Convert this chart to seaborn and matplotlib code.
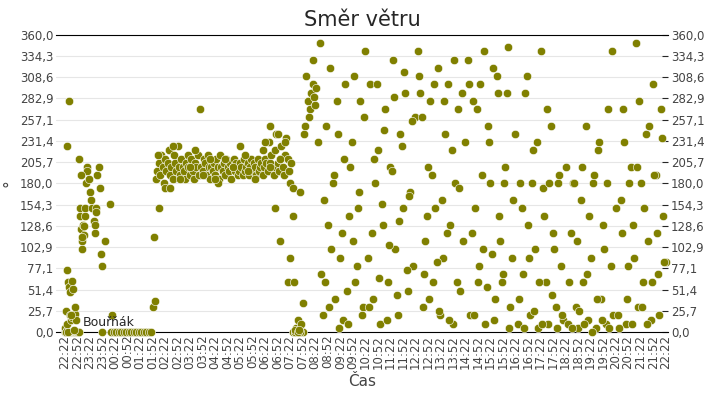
import numpy as np
import pandas as pd
import matplotlib
matplotlib.use("Agg")
import matplotlib.pyplot as plt
import seaborn as sns

# hours after 22:22, wind direction in degrees
hours = [
    0.0, 0.02, 0.05, 0.08, 0.1, 0.12, 0.15, 0.18, 0.2, 0.22, 0.25, 0.28, 0.3, 0.33, 0.35, 0.38, 0.4, 0.42, 0.45, 0.48, 0.5, 0.52, 0.55,
    0.03, 0.07, 0.1, 0.15, 0.2, 0.25, 0.3, 0.35, 0.4, 0.45, 0.12, 0.18, 0.22, 0.28, 0.32, 0.08, 0.25, 0.42, 0.05, 0.14, 0.35,
    0.6, 0.62, 0.65, 0.68, 0.7, 0.72, 0.75, 0.78, 0.8, 0.82, 0.85, 0.88, 0.9, 0.95, 1.0, 1.05, 1.1, 1.15, 1.2, 1.25, 1.3, 1.35, 1.4,
    0.58, 0.63, 0.7, 1.2, 1.25, 1.45, 1.5, 1.6, 1.5, 1.8, 1.9,
    1.85, 1.95, 2.05, 2.15, 2.25, 2.35, 2.45, 2.55, 2.65, 2.75, 2.85, 2.95, 3.05, 3.15, 3.25, 3.35, 3.45, 3.5, 3.6,
    3.55, 3.75,
    3.62, 3.68, 3.75, 3.8, 3.85, 3.9, 3.95, 4.0, 4.05, 4.1, 4.15, 4.2, 4.25, 4.3, 4.35, 4.4, 4.45, 4.5, 4.55, 4.6, 4.65, 4.7,
    4.75, 4.8, 4.85, 4.9, 4.95, 5.0, 5.05, 5.1, 5.15, 5.2, 5.25, 5.3, 5.35, 5.4, 5.45, 5.5, 5.55, 5.6, 5.65, 5.7, 5.75, 5.8,
    5.85, 5.9, 5.95, 6.0, 6.05, 6.1, 6.15, 6.2, 6.25, 6.3, 6.35, 6.4, 6.45, 6.5, 6.55, 6.6, 6.65, 6.7, 6.75, 6.8, 6.85, 6.9,
    6.95, 7.0, 7.05, 7.1, 7.15, 7.2, 7.25, 7.3, 7.35, 7.4, 7.45, 7.5, 7.55, 7.6, 7.65, 7.7, 7.75, 7.8, 7.85, 7.9, 7.95, 8.0,
    8.05, 8.1, 8.15, 8.2, 8.25, 8.3, 8.35, 8.4, 8.45, 8.5, 8.55, 8.6, 8.65, 8.7, 8.75, 8.8, 8.85, 8.9, 8.95, 9.0, 9.05, 9.1,
    3.7, 4.0, 4.3, 4.6, 4.9, 5.2, 5.5, 5.8, 6.1, 6.4, 6.7, 7.0, 7.3, 7.6, 7.9, 8.2, 8.5, 8.8, 4.2, 5.0, 6.0, 7.2, 8.0, 8.6,
    8.2, 8.4, 8.6, 8.9, 9.1, 9.2, 9.3, 9.4, 9.5,
    9.0, 9.1, 9.15, 9.2, 9.25, 9.3, 9.35, 9.4, 9.45, 9.5, 9.2, 9.3, 9.35,
    9.4, 9.6, 9.7, 9.8, 9.9, 9.75, 9.85, 9.95, 10.0, 10.1, 9.55, 9.65, 9.9, 10.05,
    10.2, 10.3, 10.4, 10.5, 10.6, 10.7, 10.8, 10.9, 11.0, 11.1, 11.2, 11.3, 11.4, 11.5, 11.6, 11.7, 11.8, 11.9, 12.0,
    10.25, 10.35, 10.45, 10.55, 10.65, 10.75, 10.85, 10.95, 11.05, 11.15, 11.25, 11.35, 11.45, 11.55, 11.65, 11.75, 11.85, 11.95,
    12.1, 12.2, 12.3, 12.4, 12.5, 12.6, 12.7, 12.8, 12.9, 13.0, 13.1, 13.2, 13.3, 13.4, 13.5, 13.6, 13.7, 13.8, 13.9, 14.0,
    12.15, 12.25, 12.35, 12.45, 12.55, 12.65, 12.75, 12.85, 12.95, 13.05, 13.15, 13.25, 13.35, 13.45, 13.55, 13.65, 13.75, 13.85,
    14.1, 14.2, 14.3, 14.4, 14.5, 14.6, 14.7, 14.8, 14.9, 15.0, 15.1, 15.2, 15.3, 15.4, 15.5, 15.6, 15.7, 15.8, 15.9, 16.0,
    14.15, 14.25, 14.35, 14.45, 14.55, 14.65, 14.75, 14.85, 14.95, 15.05, 15.15, 15.25, 15.35, 15.45, 15.55, 15.65, 15.75, 15.85,
    16.1, 16.2, 16.3, 16.4, 16.5, 16.6, 16.7, 16.8, 16.9, 17.0, 17.1, 17.2, 17.3, 17.4, 17.5, 17.6, 17.7, 17.8, 17.9, 18.0,
    16.15, 16.25, 16.35, 16.45, 16.55, 16.65, 16.75, 16.85, 16.95, 17.05, 17.15, 17.25, 17.35, 17.45, 17.55, 17.65, 17.75, 17.85,
    18.1, 18.2, 18.3, 18.4, 18.5, 18.6, 18.7, 18.8, 18.9, 19.0, 19.1, 19.2, 19.3, 19.4, 19.5, 19.6, 19.7, 19.8, 19.9, 20.0,
    18.15, 18.25, 18.35, 18.45, 18.55, 18.65, 18.75, 18.85, 18.95, 19.05, 19.15, 19.25, 19.35, 19.45, 19.55, 19.65, 19.75, 19.85,
    20.1, 20.2, 20.3, 20.4, 20.5, 20.6, 20.7, 20.8, 20.9, 21.0, 21.1, 21.2, 21.3, 21.4, 21.5, 21.6, 21.7, 21.8, 21.9, 22.0,
    20.15, 20.25, 20.35, 20.45, 20.55, 20.65, 20.75, 20.85, 20.95, 21.05, 21.15, 21.25, 21.35, 21.45, 21.55, 21.65, 21.75, 21.85,
    22.1, 22.2, 22.3, 22.4, 22.5, 22.6, 22.7, 22.8, 22.9, 23.0, 23.1, 23.2, 23.3, 23.4, 23.5, 23.6, 23.7, 23.8, 23.9, 24.0,
    22.15, 22.25, 22.35, 22.45, 22.55, 22.65, 22.75, 22.85, 22.95, 23.05, 23.15, 23.25, 23.35, 23.45, 23.55, 23.65, 23.75, 23.85, 23.95,
]
direction = [
    0, 5, 0, 0, 2, 0, 0, 0, 0, 0, 0, 0, 0, 0, 0, 0, 0, 0, 0, 0, 0, 0, 0,
    25, 10, 225, 280, 20, 15, 18, 20, 22, 15, 60, 55, 48, 62, 52, 75, 20, 30, 0, 0, 2,
    150, 140, 125, 110, 100, 130, 118, 128, 140, 150, 180, 200, 195, 185, 170, 160, 150, 135, 120, 150, 190, 200, 175,
    210, 190, 115, 130, 145, 95, 80, 110, 0, 155, 20,
    0, 0, 0, 0, 0, 0, 0, 0, 0, 0, 0, 0, 0, 0, 0, 0, 0, 30, 38,
    115, 150,
    185, 195, 205, 190, 215, 200, 180, 210, 195, 205, 220, 190, 200, 185, 215, 205, 195, 225, 200, 190, 210, 200,
    195, 185, 205, 215, 200, 190, 210, 195, 185, 205, 200, 215, 190, 270, 200, 195, 210, 205, 190, 215, 200, 185,
    200, 195, 205, 190, 210, 200, 185, 215, 200, 195, 205, 190, 210, 200, 195, 205, 185, 200, 210, 195, 205, 190,
    195, 205, 200, 190, 210, 195, 200, 205, 190, 200, 210, 195, 205, 200, 190, 210, 195, 200, 205, 190, 200, 210,
    205, 195, 230, 250, 215, 200, 190, 220, 240, 205, 195, 210, 225, 200, 190, 215, 235, 210, 195, 180, 205, 175,
    215, 175, 225, 185, 200, 220, 190, 210, 180, 210, 200, 225, 195, 185, 220, 205, 240, 230, 175, 200, 185, 215, 230, 210,
    200, 150, 110, 60, 0, 0, 0, 0, 0,
    90, 140, 60, 0, 5, 15, 0, 0, 10, 35, 2, 0, 3,
    170, 250, 280, 270, 300, 260, 290, 285, 275, 230, 240, 310, 330, 295,
    350, 20, 60, 130, 320, 180, 40, 240, 90, 15, 300, 10, 200, 110, 60, 150, 280, 30, 340,
    70, 160, 250, 30, 100, 190, 280, 5, 120, 210, 50, 140, 230, 310, 80, 170, 20, 260,
    90, 300, 40, 180, 220, 10, 130, 270, 60, 200, 330, 100, 20, 240, 150, 290, 50, 170, 80, 260,
    30, 120, 210, 300, 65, 155, 245, 15, 105, 195, 285, 45, 135, 225, 315, 75, 165, 255,
    340, 290, 30, 110, 200, 280, 60, 150, 320, 20, 90, 240, 300, 130, 10, 180, 270, 50, 110, 230,
    310, 260, 70, 140, 40, 190, 300, 85, 25, 160, 280, 120, 15, 220, 330, 60, 175, 290,
    330, 20, 280, 150, 60, 300, 100, 10, 250, 180, 320, 40, 290, 110, 70, 200, 345, 30, 160, 240,
    300, 120, 20, 270, 80, 190, 340, 55, 230, 95, 15, 310, 140, 60, 180, 290, 5, 90,
    10, 180, 70, 290, 130, 20, 220, 100, 5, 340, 175, 60, 10, 250, 120, 30, 180, 80, 15, 200,
    40, 150, 5, 310, 90, 180, 25, 230, 60, 10, 140, 270, 180, 45, 100, 5, 190, 20,
    10, 120, 180, 30, 5, 160, 60, 250, 15, 90, 180, 5, 220, 40, 130, 10, 270, 80, 20, 150,
    60, 5, 180, 110, 25, 200, 10, 70, 140, 0, 190, 40, 230, 15, 100, 180, 5, 340,
    20, 160, 270, 10, 80, 200, 130, 350, 30, 180, 60, 240, 110, 15, 300, 190, 70, 270, 140, 85,
    5, 120, 230, 40, 180, 10, 90, 200, 280, 30, 150, 10, 250, 60, 190, 120, 20, 235, 85,
]

ticks = np.arange(0, 24.01, 0.5)
tick_labels = [f"{(22 * 60 + 22 + int(h * 60)) // 60 % 24:02d}:{(22 + int(h * 60)) % 60:02d}" for h in ticks]
yticks = [0, 25.7, 51.4, 77.1, 102.9, 128.6, 154.3, 180, 205.7, 231.4, 257.1, 282.9, 308.6, 334.3, 360]

df = pd.DataFrame({"h": hours, "d": direction})

sns.set_style("white")
fig, ax = plt.subplots(figsize=(7.2, 4.0), dpi=100)
fig.subplots_adjust(left=0.078, right=0.928, top=0.913, bottom=0.17)
sns.scatterplot(data=df, x="h", y="d", ax=ax, color="#808000", s=36,
                edgecolor="white", linewidth=0.4, zorder=3, clip_on=False)
ax.set_xlim(-0.35, 24.1)
ax.set_ylim(0, 360)
ax.set_xticks(ticks)
ax.set_xticklabels(tick_labels, rotation=90, fontsize=8.5, color="#444444")
ax.set_yticks(yticks)
ylab = [f"{v:.1f}".replace(".", ",") for v in yticks]
ax.set_yticklabels(ylab, fontsize=8.5, color="#444444")
ax.tick_params(axis="both", length=4, direction="in", right=True, labelright=True, pad=2)
ax.grid(axis="y", color="#e6e6e6", linewidth=0.8)
ax.set_axisbelow(True)
for s in ["left", "right"]:
    ax.spines[s].set_visible(False)
ax.spines["top"].set_color("black")
ax.spines["bottom"].set_color("black")
ax.set_xlabel("Čas", fontsize=11, color="#444444")
ax.set_ylabel("°", fontsize=11, color="#444444", labelpad=2)
ax.set_title("Směr větru", fontsize=15)
ax.text(0.7, 7, "Bouřňák", fontsize=9, zorder=4)
fig.savefig("out.png")
